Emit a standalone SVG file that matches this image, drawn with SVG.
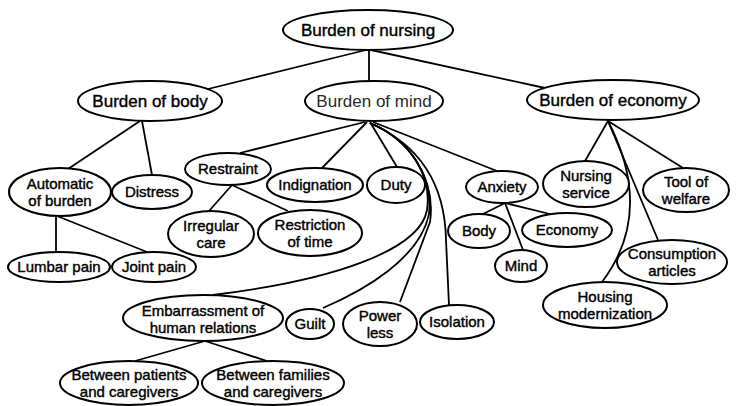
<svg xmlns="http://www.w3.org/2000/svg" width="737" height="406" viewBox="0 0 737 406">
<style>
  .n ellipse { fill: #fff; stroke: #000; stroke-width: 2; }
  .n text { font-family: "Liberation Sans", Arial, sans-serif; font-size: 15px; fill: #000; text-anchor: middle; stroke: #000; stroke-width: 0.4; }
  .n text.big { font-size: 17px; }
  .n text.grey { fill: #2a2a2a; stroke: none; }
  #connectors path, #connectors line { fill: none; stroke: #000; stroke-width: 1.8; }
</style>
<rect width="737" height="406" fill="#fff"/>
<g id="connectors">
  <line x1="366" y1="50" x2="208" y2="89"/>
  <line x1="369" y1="50" x2="369" y2="81"/>
  <line x1="371" y1="50" x2="545" y2="88"/>
  <line x1="140" y1="121" x2="68" y2="169"/>
  <line x1="142" y1="121" x2="152" y2="175"/>
  <line x1="56" y1="216" x2="56" y2="252"/>
  <line x1="57" y1="216" x2="147" y2="252"/>
  <line x1="365" y1="122" x2="240" y2="153"/>
  <line x1="367" y1="122" x2="322" y2="168"/>
  <line x1="370" y1="122" x2="397" y2="167"/>
  <line x1="373" y1="122" x2="497" y2="171"/>
  <line x1="232" y1="185" x2="209" y2="211"/>
  <line x1="232" y1="185" x2="288" y2="211"/>
  <line x1="505" y1="203" x2="483" y2="214"/>
  <line x1="505" y1="203" x2="550" y2="214"/>
  <line x1="505" y1="203" x2="523" y2="250"/>
  <line x1="608" y1="121" x2="585" y2="161"/>
  <line x1="608" y1="121" x2="683" y2="168"/>
  <line x1="608" y1="121" x2="658" y2="240"/>
  <path d="M608,121 Q655,212 602,282"/>
  <path d="M370,123 C410,140 432,175 427,210 C420,250 335,280 213,295"/>
  <path d="M370,123 C410,140 433,175 429,214 C420,258 365,290 323,308"/>
  <path d="M370,123 C411,140 436,180 430,222 L400,302"/>
  <path d="M370,123 C420,145 445,185 446,240 L449,305"/>
  <line x1="205" y1="341" x2="135" y2="361"/>
  <line x1="205" y1="341" x2="267" y2="361"/>
</g>
<g id="burden-of-nursing" class="n"><ellipse cx="368" cy="30" rx="85" ry="20"/><text class="big" x="368" y="36">Burden of nursing</text></g>
<g id="burden-of-body" class="n"><ellipse cx="150" cy="101" rx="72" ry="20"/><text class="big" x="150" y="107">Burden of body</text></g>
<g id="burden-of-mind" class="n"><ellipse cx="374" cy="101" rx="69" ry="20"/><text class="big grey" x="374" y="107">Burden of mind</text></g>
<g id="burden-of-economy" class="n"><ellipse cx="613" cy="100" rx="86" ry="20"/><text class="big" x="613" y="106">Burden of economy</text></g>
<g id="automatic-of-burden" class="n"><ellipse cx="60" cy="192" rx="51" ry="24"/><text x="60" y="189">Automatic<tspan x="60" dy="17">of burden</tspan></text></g>
<g id="distress" class="n"><ellipse cx="152" cy="192" rx="40" ry="17"/><text x="152" y="197">Distress</text></g>
<g id="lumbar-pain" class="n"><ellipse cx="59" cy="267" rx="51" ry="15"/><text x="59" y="272">Lumbar pain</text></g>
<g id="joint-pain" class="n"><ellipse cx="154" cy="267" rx="42" ry="15"/><text x="154" y="272">Joint pain</text></g>
<g id="restraint" class="n"><ellipse cx="228" cy="169" rx="43" ry="16"/><text x="228" y="174">Restraint</text></g>
<g id="irregular-care" class="n"><ellipse cx="211" cy="234" rx="43" ry="23"/><text x="211" y="231">Irregular<tspan x="211" dy="17">care</tspan></text></g>
<g id="restriction-of-time" class="n"><ellipse cx="310" cy="233" rx="52" ry="23"/><text x="310" y="230">Restriction<tspan x="310" dy="17">of time</tspan></text></g>
<g id="indignation" class="n"><ellipse cx="315" cy="185" rx="48" ry="17"/><text x="315" y="190">Indignation</text></g>
<g id="duty" class="n"><ellipse cx="396" cy="185" rx="29" ry="18"/><text x="396" y="190">Duty</text></g>
<g id="anxiety" class="n"><ellipse cx="502" cy="187" rx="36" ry="16"/><text x="502" y="192">Anxiety</text></g>
<g id="anxiety-body" class="n"><ellipse cx="479" cy="231" rx="31" ry="17"/><text x="479" y="236">Body</text></g>
<g id="anxiety-economy" class="n"><ellipse cx="567" cy="230" rx="45" ry="17"/><text x="567" y="235">Economy</text></g>
<g id="anxiety-mind" class="n"><ellipse cx="521" cy="266" rx="26" ry="16"/><text x="521" y="271">Mind</text></g>
<g id="nursing-service" class="n"><ellipse cx="586" cy="184" rx="43" ry="23"/><text x="586" y="181">Nursing<tspan x="586" dy="17">service</tspan></text></g>
<g id="tool-of-welfare" class="n"><ellipse cx="686" cy="190" rx="43" ry="22"/><text x="686" y="187">Tool of<tspan x="686" dy="17">welfare</tspan></text></g>
<g id="consumption-articles" class="n"><ellipse cx="672" cy="262" rx="55" ry="22"/><text x="672" y="259">Consumption<tspan x="672" dy="17">articles</tspan></text></g>
<g id="housing-modernization" class="n"><ellipse cx="605" cy="305" rx="62" ry="23"/><text x="605" y="302">Housing<tspan x="605" dy="17">modernization</tspan></text></g>
<g id="embarrassment" class="n"><ellipse cx="203" cy="318" rx="80" ry="23"/><text x="203" y="316">Embarrassment of<tspan x="203" dy="17">human relations</tspan></text></g>
<g id="guilt" class="n"><ellipse cx="310" cy="324" rx="24" ry="15"/><text x="310" y="329">Guilt</text></g>
<g id="power-less" class="n"><ellipse cx="380" cy="324" rx="37" ry="22"/><text x="380" y="321">Power<tspan x="380" dy="17">less</tspan></text></g>
<g id="isolation" class="n"><ellipse cx="457" cy="322" rx="37" ry="17"/><text x="457" y="327">Isolation</text></g>
<g id="between-patients" class="n"><ellipse cx="129" cy="383" rx="69" ry="22"/><text x="129" y="380">Between patients<tspan x="129" dy="17">and caregivers</tspan></text></g>
<g id="between-families" class="n"><ellipse cx="273" cy="383" rx="71" ry="22"/><text x="273" y="380">Between families<tspan x="273" dy="17">and caregivers</tspan></text></g>
</svg>
